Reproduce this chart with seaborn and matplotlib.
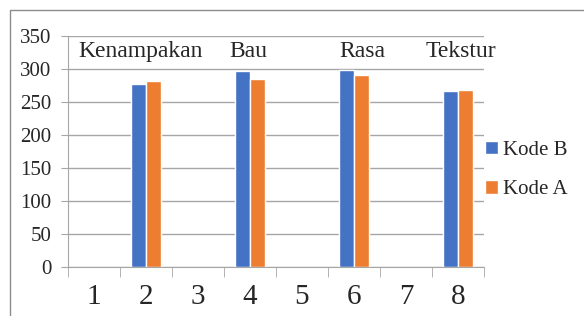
import matplotlib
matplotlib.use("Agg")
import matplotlib.pyplot as plt
from matplotlib.patches import Rectangle
import seaborn as sns
import pandas as pd
import numpy as np

categories = ["1", "2", "3", "4", "5", "6", "7", "8"]
kode_b = [np.nan, 278, np.nan, 297, np.nan, 299, np.nan, 267]
kode_a = [np.nan, 282, np.nan, 285, np.nan, 291, np.nan, 268]
series_names = ["Kode B", "Kode A"]
aspect_labels = ["Kenampakan", "Bau", "Rasa", "Tekstur"]
aspect_pos = [0.90, 2.96, 5.17, 7.06]
colors = ["#4472C4", "#ED7D31"]

df = pd.DataFrame({
    "kategori": categories * 2,
    "nilai": kode_b + kode_a,
    "seri": [series_names[0]] * 8 + [series_names[1]] * 8,
})

sns.set_style("white")
plt.rcParams["font.family"] = ["Liberation Serif", "DejaVu Serif"]

fig = plt.figure(figsize=(5.84, 3.16), dpi=100)
ax = fig.add_axes([68 / 584, 49 / 316, 416 / 584, 231 / 316])

sns.barplot(data=df, x="kategori", y="nilai", hue="seri", order=categories,
            hue_order=series_names, palette=colors, width=0.58, ax=ax,
            errorbar=None, saturation=1)

ax.set_ylim(0, 350)
ax.set_xlim(-0.5, 7.5)
ax.set_yticks(range(0, 351, 50))
ax.yaxis.grid(True, color="#A6A6A6", linewidth=1)
ax.set_axisbelow(True)
ax.set_xlabel("")
ax.set_ylabel("")
for s in ["top", "right"]:
    ax.spines[s].set_visible(False)
ax.spines["left"].set_color("#A6A6A6")
ax.spines["bottom"].set_color("#A6A6A6")

ax.tick_params(axis="y", labelsize=15, length=5, color="#A6A6A6", left=True, pad=7)
ax.tick_params(axis="x", which="major", labelsize=21, length=0, pad=12)
ax.set_xticks(np.arange(-0.5, 8, 1), minor=True)
ax.tick_params(axis="x", which="minor", length=7, color="#A6A6A6", bottom=True)

for lab, pos in zip(aspect_labels, aspect_pos):
    ax.text(pos, 326, lab, fontsize=17, ha="center", va="center")

ax.legend(loc="center left", bbox_to_anchor=(0.958, 0.42), frameon=False,
          fontsize=15, handlelength=0.6, handleheight=0.6, handletextpad=0.25,
          labelspacing=1.0)

fig.patches.append(Rectangle((10 / 584, -0.1), 1.2, 1 - 10 / 316 + 0.1,
                             transform=fig.transFigure, fill=False,
                             edgecolor="#8C8C8C", linewidth=1))

fig.savefig("out.png", dpi=100)
